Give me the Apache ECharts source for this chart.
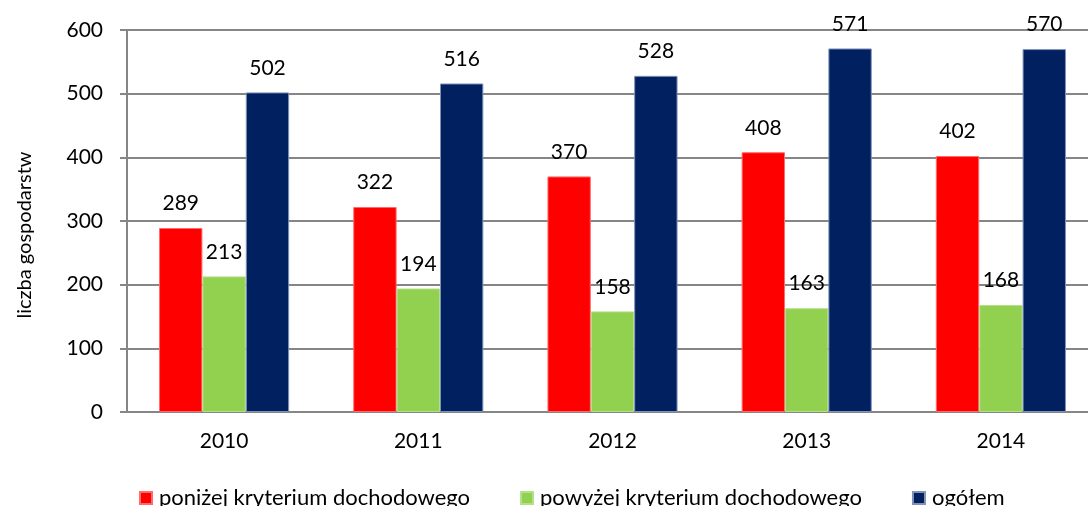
<!DOCTYPE html>
<html><head><meta charset="utf-8">
<script src="https://cdn.jsdelivr.net/npm/echarts@6/dist/echarts.min.js"></script>
<style>html,body{margin:0;padding:0;background:#fff;overflow:hidden}#c{width:1100px;height:506px}</style>
</head><body><div id="c"></div>
<script>
const years = ['2010','2011','2012','2013','2014'];
const ponizej = [289, 322, 370, 408, 402];
const powyzej = [213, 194, 158, 163, 168];
const ogolem = [502, 516, 528, 571, 570];
const seriesNames = ['poniżej kryterium dochodowego','powyżej kryterium dochodowego','ogółem'];
const yTicks = [0, 100, 200, 300, 400, 500, 600];

const FONT = 'Lato, "Noto Sans", sans-serif';
const chart = echarts.init(document.getElementById('c'), null, {renderer:'canvas'});
const lbl = {show:true, position:'top', distance:14, color:'#000', fontSize:21, fontFamily:FONT};
function mk(name, data, color, border){
  return {name, type:'bar', data, barGap:'0%', barCategoryGap:'33%',
    itemStyle:{color, borderColor:border, borderWidth:1}, label:lbl, emphasis:{disabled:true}};
}
chart.setOption({
  animation:false,
  grid:{left:127, top:30, width:971, height:382, containLabel:false},
  legend:{top:482, left:134, itemGap:50, itemWidth:12, itemHeight:12, icon:'rect',
    textStyle:{fontSize:22, fontFamily:FONT, color:'#000', padding:[0,0,0,2]},
    data:seriesNames},
  graphic:[{type:'text', x:25, y:235, rotation:Math.PI/2,
    style:{text:'liczba gospodarstw', fontSize:20, fontFamily:FONT, fill:'#000', textAlign:'center', textVerticalAlign:'middle'}}],
  xAxis:{type:'category', data:years,
    axisLine:{lineStyle:{color:'#868686', width:2}}, axisTick:{show:false},
    axisLabel:{color:'#000', fontSize:21, fontFamily:FONT, margin:19}},
  yAxis:{type:'value', min:yTicks[0], max:yTicks[yTicks.length-1], interval:100,
    axisLine:{show:true, lineStyle:{color:'#868686', width:2}},
    axisTick:{show:true, length:7, lineStyle:{color:'#868686', width:2}},
    splitLine:{lineStyle:{color:'#868686', width:2}},
    axisLabel:{color:'#000', fontSize:21, fontFamily:FONT, margin:24}},
  series:[
    mk(seriesNames[0], ponizej, '#FF0000', '#ff6a6a'),
    mk(seriesNames[1], powyzej, '#92D050', '#b5e08a'),
    mk(seriesNames[2], ogolem, '#002060', '#7f93b8')
  ]
});
</script></body></html>
